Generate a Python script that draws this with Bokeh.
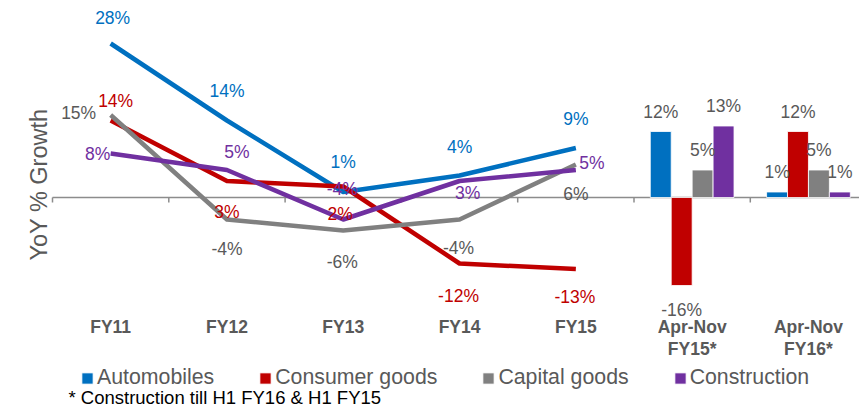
from math import pi
from bokeh.plotting import figure
from bokeh.models import Range1d, Label, Legend, LegendItem
from bokeh.core.properties import value
from bokeh.embed import file_html
from bokeh.resources import INLINE

# ---------------- data ----------------
categories = ["FY11", "FY12", "FY13", "FY14", "FY15", "Apr-Nov\nFY15*", "Apr-Nov\nFY16*"]
series_names = ["Automobiles", "Consumer goods", "Capital goods", "Construction"]

# FY11..FY15 (lines), YoY % growth
automobiles_fy = [28, 14, 1, 4, 9]
consumer_fy = [14, 3, 2, -12, -13]
capital_fy = [15, -4, -6, -4, 6]
construction_fy = [8, 5, -4, 3, 5]

# Apr-Nov FY15*, Apr-Nov FY16* (bars), YoY % growth
automobiles_ytd = [12, 1]
consumer_ytd = [-16, 12]
capital_ytd = [5, 5]
construction_ytd = [13, 1]

footnote = "* Construction till H1 FY16 & H1 FY15"
y_title = "YoY % Growth"

# ---------------- styles ----------------
FONT = "Liberation Sans"
line_colors = ["#0070C0", "#C00000", "#808080", "#7030A0"]
label_colors = ["#0070C0", "#C00000", "#595959", "#7030A0"]
label_dx = [[2, 0, 0, 0, 0],
            [5, 0, -3, -1, -1],
            [-32, 0, -1, -1, 0],
            [-13, 10, -1, 8, 16]]
label_dy = [[-26, -30, -30, -29, -29],
            [-20, 31, 27, 32, 28],
            [-2, 29, 31, 28, 29],
            [0, -18, -31, 12, -7]]
bar_offsets = [-0.27, -0.09, 0.09, 0.27]
bar_width = 0.18
W, H = 859, 409
LEFT_PAD = 52          # px from canvas left to first category boundary
CAT_PX = 116.3         # px per category
ZERO_PX = 197          # px from top to the zero line
PX_PER_PCT = 5.5

fy_values = [automobiles_fy, consumer_fy, capital_fy, construction_fy]
ytd_values = [automobiles_ytd, consumer_ytd, capital_ytd, construction_ytd]

n = len(categories)
cat_x = list(range(n))
line_x = list(range(len(automobiles_fy)))
bar_x = [len(automobiles_fy) + i for i in range(len(automobiles_ytd))]

x0 = -0.5 - LEFT_PAD / CAT_PX
p = figure(width=W, height=H, title=None,
           x_range=Range1d(x0, x0 + W / CAT_PX),
           y_range=Range1d(-(H - ZERO_PX) / PX_PER_PCT, ZERO_PX / PX_PER_PCT),
           output_backend="svg", toolbar_location=None,
           min_border_left=0, min_border_right=0,
           min_border_top=0, min_border_bottom=0)
p.outline_line_color = None
p.xgrid.visible = False
p.ygrid.visible = False
p.xaxis.visible = False
p.yaxis.visible = False

# zero (category) axis line and category boundary ticks
p.segment(x0=[-0.5], y0=[0], x1=[n - 0.5], y1=[0], line_color="#8C8C8C", line_width=1.5)
bounds = [i - 0.5 for i in range(n + 1)]
p.segment(x0=bounds, y0=[0] * len(bounds), x1=bounds, y1=[-0.9] * len(bounds),
          line_color="#8C8C8C", line_width=1.5)

# category labels, hung below the zero axis line
p.text(x=cat_x, y=[0] * n, text=categories, y_offset=119,
       text_font=value(FONT), text_font_size="17.5px", text_font_style="bold",
       text_color="#595959", text_align="center", text_baseline="top",
       text_line_height=1.1)

legend_items = []
for k in range(4):
    p.line(x=line_x, y=fy_values[k], line_color=line_colors[k], line_width=4.5,
           line_join="round")
    r = p.vbar(x=[bx + bar_offsets[k] for bx in bar_x], top=ytd_values[k], width=bar_width,
               fill_color=line_colors[k], line_color="white", line_width=0.8)
    legend_items.append(LegendItem(label=series_names[k], renderers=[r]))

for k in range(4):
    p.text(x=line_x, y=fy_values[k], text=[f"{v}%" for v in fy_values[k]],
           x_offset=label_dx[k], y_offset=label_dy[k],
           text_color=label_colors[k], text_font=value(FONT), text_font_size="17.5px",
           text_align="center", text_baseline="middle")

for k in range(4):
    p.text(x=[bx + bar_offsets[k] for bx in bar_x], y=ytd_values[k],
           text=[f"{v}%" for v in ytd_values[k]],
           y_offset=[-20 if v >= 0 else 24 for v in ytd_values[k]],
           text_color="#595959", text_font=value(FONT), text_font_size="17.5px",
           text_align="center", text_baseline="middle")

legend = Legend(items=legend_items, orientation="horizontal", location=(80, 19),
                glyph_width=14, glyph_height=14, label_standoff=3, spacing=44,
                padding=0, margin=0, border_line_color=None, background_fill_alpha=0,
                label_text_font=FONT, label_text_font_size="21.3px",
                label_text_color="#595959")
p.add_layout(legend)

p.add_layout(Label(x=38, y=H - 184, x_units="screen", y_units="screen", text=y_title,
                   angle=pi / 2, text_align="center", text_baseline="middle",
                   text_font=FONT, text_font_size="23.5px", text_color="#595959"))
p.add_layout(Label(x=68, y=12, x_units="screen", y_units="screen", text=footnote,
                   text_align="left", text_baseline="middle",
                   text_font=FONT, text_font_size="18.5px", text_color="#000000"))

open("out.html", "w").write(file_html(p, INLINE))
